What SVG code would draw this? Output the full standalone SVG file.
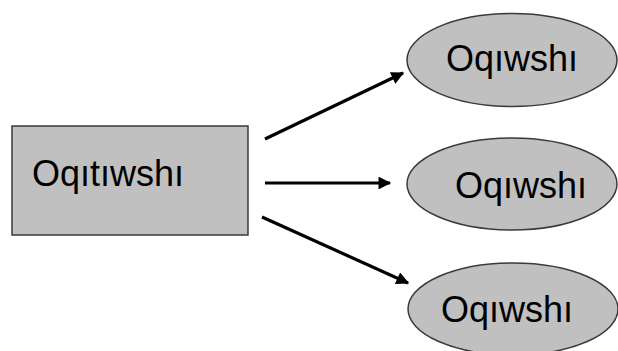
<svg xmlns="http://www.w3.org/2000/svg" width="618" height="351" viewBox="0 0 618 351">
  <style>
    .shape { fill: #c0c0c0; stroke: #3a3a3a; stroke-width: 1.5; }
    .label { font-family: "Liberation Sans", Arial, sans-serif; font-size: 36px; fill: #000; }
    .link { stroke: #000; stroke-width: 3.2; fill: none; marker-end: url(#head); }
  </style>
  <defs>
    <marker id="head" viewBox="0 0 10 10" refX="9" refY="5" markerWidth="4.2" markerHeight="4" orient="auto" markerUnits="strokeWidth">
      <path d="M0,0 L10,5 L0,10 z" fill="#000"/>
    </marker>
  </defs>
  <rect width="618" height="351" fill="#fff"/>

  <g id="teacher">
    <rect class="shape" x="12" y="126" width="236" height="109"/>
    <text class="label" x="32" y="186">Oqıtıwshı</text>
  </g>

  <g id="student-1">
    <ellipse class="shape" cx="512" cy="60" rx="105" ry="46.5"/>
    <text class="label" x="446" y="71">Oqıwshı</text>
  </g>

  <g id="student-2">
    <ellipse class="shape" cx="512" cy="184" rx="105" ry="46"/>
    <text class="label" x="455" y="198">Oqıwshı</text>
  </g>

  <g id="student-3">
    <ellipse class="shape" cx="513" cy="309" rx="105" ry="46"/>
    <text class="label" x="441" y="322">Oqıwshı</text>
  </g>

  <g id="connectors">
    <line class="link" x1="265" y1="139" x2="403" y2="73"/>
    <line class="link" x1="265" y1="183" x2="390" y2="183"/>
    <line class="link" x1="262" y1="217" x2="408" y2="283"/>
  </g>
</svg>
